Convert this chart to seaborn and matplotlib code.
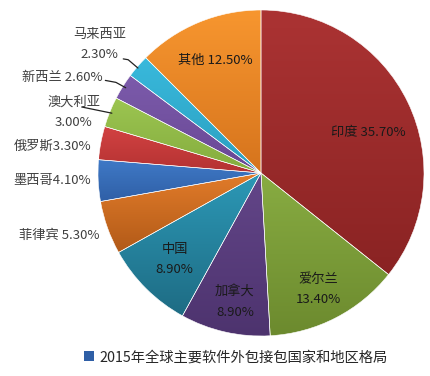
import numpy as np
import matplotlib
matplotlib.use("Agg")
import matplotlib.pyplot as plt
import seaborn as sns
from matplotlib.patches import Patch
from matplotlib.colors import to_rgb

sns.set_theme(style="white")
plt.rcParams['font.family'] = ['Noto Sans CJK SC', 'DejaVu Sans']

# ---- data ----
countries = ["印度", "爱尔兰", "加拿大", "中国", "菲律宾", "墨西哥",
             "俄罗斯", "澳大利亚", "新西兰", "马来西亚", "其他"]
shares = [35.7, 13.4, 8.9, 8.9, 5.3, 4.1, 3.3, 3.0, 2.6, 2.3, 12.5]
legend_title = "2015年全球主要软件外包接包国家和地区格局"

# ---- styles ----
top_colors = ["#AB3333", "#88AC42", "#634689", "#2C98B6", "#E27C2A", "#3F79C6",
              "#D24242", "#9CC551", "#7C5BAB", "#39B9DC", "#F7962F"]
bot_colors = ["#8A2323", "#6C8A2E", "#4D336E", "#1E6C84", "#B25A18", "#2F5FA6",
              "#B43232", "#84AC3E", "#684794", "#2A9FC0", "#D6741D"]

# label layout: (x, y) in axes data units, ha, text template
label_layout = [
    (0.656, 0.25, "center", "{n} {v:.2f}%"),
    (0.35, -0.715, "center", "{n}\n{v:.2f}%"),
    (-0.16, -0.79, "center", "{n}\n{v:.2f}%"),
    (-0.53, -0.53, "center", "{n}\n{v:.2f}%"),
    (-0.99, -0.385, "right", "{n} {v:.2f}%"),
    (-1.045, -0.045, "right", "{n}{v:.2f}%"),
    (-1.04, 0.165, "right", "{n}{v:.2f}%"),
    (-1.15, 0.37, "center", "{n}\n{v:.2f}%"),
    (-0.97, 0.585, "right", "{n} {v:.2f}%"),
    (-0.99, 0.79, "center", "{n}\n{v:.2f}%"),
    (-0.28, 0.69, "center", "{n} {v:.2f}%"),
]
inside = {0, 1, 2, 3, 10}
leaders = {
    7: [(-1.10, 0.405), (-0.915, 0.367)],
    8: [(-0.955, 0.568), (-0.89, 0.556), (-0.83, 0.523)],
    9: [(-0.845, 0.70), (-0.815, 0.695), (-0.755, 0.644)],
}

fig = plt.figure(figsize=(4.30, 3.76), dpi=100)
cx, cy, R = 261, 173, 163
ax = fig.add_axes([(cx - R) / 430, (376 - (cy + R)) / 376, 2 * R / 430, 2 * R / 376])

wedges, _ = ax.pie(shares, startangle=90, counterclock=False, radius=1.0,
                   colors=top_colors,
                   wedgeprops=dict(edgecolor="white", linewidth=0.4))

# vertical gradient fill inside each wedge
for w, c1, c2 in zip(wedges, top_colors, bot_colors):
    path = w.get_path().transformed(w.get_patch_transform())
    verts = path.vertices
    x0, x1 = verts[:, 0].min(), verts[:, 0].max()
    y0, y1 = verts[:, 1].min(), verts[:, 1].max()
    t = np.linspace(0, 1, 64)[:, None]
    a, b = np.array(to_rgb(c1)), np.array(to_rgb(c2))
    grad = (a * (1 - t) + b * t)[:, None, :]
    im = ax.imshow(grad, extent=(x0, x1, y0, y1), origin="upper",
                   aspect="auto", zorder=w.get_zorder() + 0.1, interpolation="bilinear")
    im.set_clip_path(w)
    w.set_zorder(w.get_zorder() + 0.2)
    w.set_facecolor("none")

for i, (n, v) in enumerate(zip(countries, shares)):
    x, y, ha, tpl = label_layout[i]
    ax.text(x, y, tpl.format(n=n, v=v), ha=ha, va="center", fontsize=9.5,
            color="#1a1a1a" if i in inside else "#404040",
            linespacing=1.75, zorder=10)
for i, pts in leaders.items():
    xs, ys = zip(*pts)
    ax.plot(xs, ys, color="#222222", lw=0.9, zorder=10, clip_on=False)

ax.set_xlim(-1, 1)
ax.set_ylim(-1, 1)
ax.set_aspect("auto")
ax.axis("off")

fig.legend(handles=[Patch(facecolor="#2F5FA6", edgecolor="none")], labels=[legend_title],
           loc="center", bbox_to_anchor=(0.548, 0.05), frameon=False,
           fontsize=10.3, handlelength=0.7, handleheight=0.7, handletextpad=0.35,
           labelcolor="#262626")

fig.savefig("out.png", dpi=100)
